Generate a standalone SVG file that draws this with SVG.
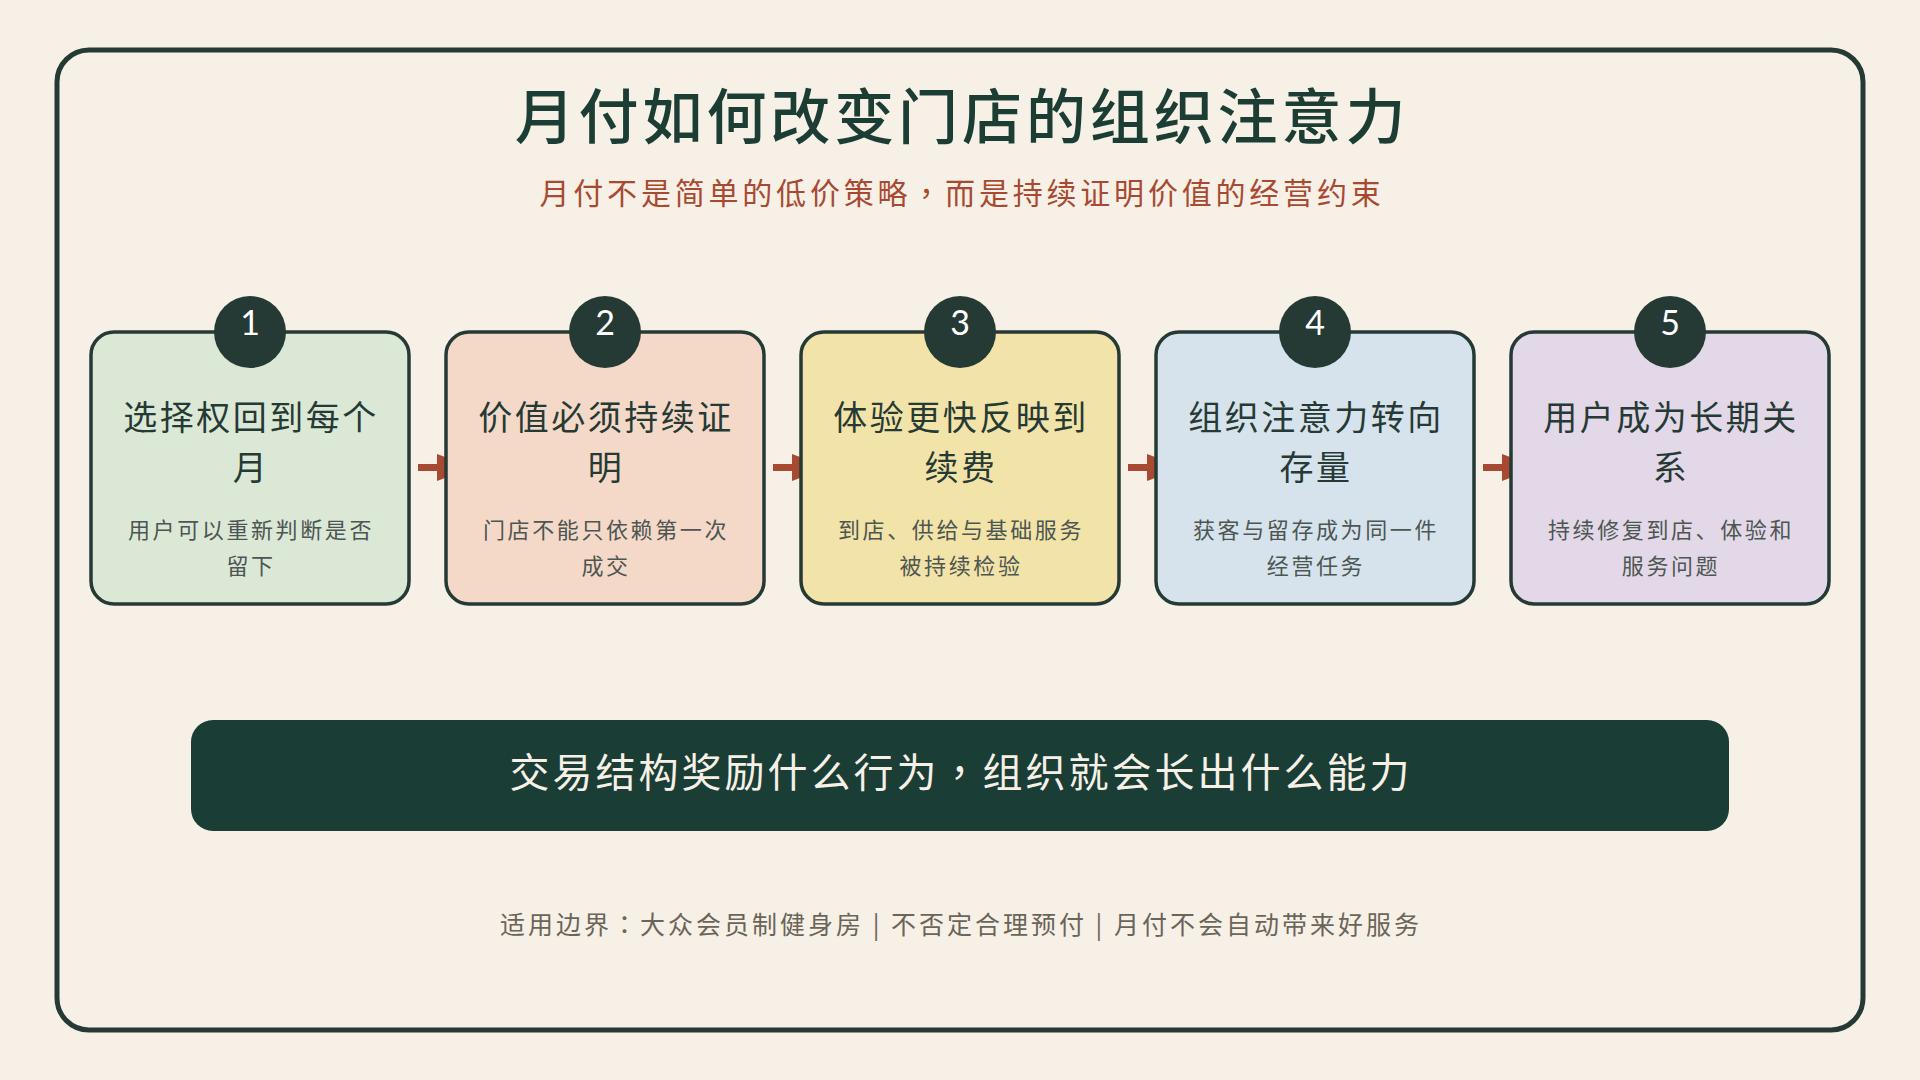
<svg xmlns="http://www.w3.org/2000/svg" width="1920" height="1080" viewBox="0 0 1920 1080">
<defs>
<style>
.cjk{font-family:"Noto Sans CJK SC","Noto Sans",sans-serif;}
.tc{font-family:"Noto Sans CJK TC","Noto Sans CJK SC",sans-serif;}
.title{font-size:60px;fill:#1b3d33;font-weight:500;letter-spacing:3.9px;}
.sub{font-size:30px;fill:#a84a32;letter-spacing:3.8px;}
.card{stroke:#263a35;stroke-width:3.5;}
.badge{fill:#263a35;}
.num{font-family:"Lato","Noto Sans",sans-serif;font-size:34px;fill:#ffffff;}
.ct{font-size:34px;fill:#263a35;letter-spacing:2.5px;}
.cd{font-size:22px;fill:#4d5652;letter-spacing:2.6px;}
.conn{stroke:#a84a32;stroke-width:7;}
.banner{fill:#1a3d36;}
.bt{font-size:40px;fill:#f6f0e6;letter-spacing:3px;}
.foot{font-size:25px;fill:#6b6458;letter-spacing:3px;}
</style>
<marker id="ah" markerUnits="userSpaceOnUse" viewBox="0 -14 40 28" markerWidth="40" markerHeight="28" refX="0" refY="0" orient="auto">
<path d="M0,-13.5 L36,0 L0,13.5 Z" fill="#a84a32"/>
</marker>
</defs>
<rect width="1920" height="1080" fill="#f6f0e6"/>
<rect x="57" y="50" width="1806" height="980" rx="32" fill="none" stroke="#263a35" stroke-width="5"/>
<g id="title">
<text class="cjk title" x="962" y="139" text-anchor="middle">月付如何改变门店的组织注意力</text>
<text class="cjk sub" x="962" y="204" text-anchor="middle">月付不是简单的低价策略<tspan class="tc">，</tspan>而是持续证明价值的经营约束</text>
</g>
<g id="connectors">
<line class="conn" x1="418" y1="467.5" x2="437" y2="467.5" marker-end="url(#ah)"/>
<line class="conn" x1="773" y1="467.5" x2="792" y2="467.5" marker-end="url(#ah)"/>
<line class="conn" x1="1128" y1="467.5" x2="1147" y2="467.5" marker-end="url(#ah)"/>
<line class="conn" x1="1483" y1="467.5" x2="1502" y2="467.5" marker-end="url(#ah)"/>
</g>
<g id="node1">
<rect class="card" x="91" y="332" width="318" height="272" rx="23" fill="#dce8d6"/>
<circle class="badge" cx="250" cy="332" r="36"/>
<text class="num" x="250" y="335" text-anchor="middle">1</text>
<text class="cjk ct" x="251" y="430" text-anchor="middle">选择权回到每个</text>
<text class="cjk ct" x="251" y="480" text-anchor="middle">月</text>
<text class="cjk cd" x="251" y="538" text-anchor="middle">用户可以重新判断是否</text>
<text class="cjk cd" x="251" y="574" text-anchor="middle">留下</text>
</g>
<g id="node2">
<rect class="card" x="446" y="332" width="318" height="272" rx="23" fill="#f4d9c8"/>
<circle class="badge" cx="605" cy="332" r="36"/>
<text class="num" x="605" y="335" text-anchor="middle">2</text>
<text class="cjk ct" x="606" y="430" text-anchor="middle">价值必须持续证</text>
<text class="cjk ct" x="606" y="480" text-anchor="middle">明</text>
<text class="cjk cd" x="606" y="538" text-anchor="middle">门店不能只依赖第一次</text>
<text class="cjk cd" x="606" y="574" text-anchor="middle">成交</text>
</g>
<g id="node3">
<rect class="card" x="801" y="332" width="318" height="272" rx="23" fill="#f2e3a8"/>
<circle class="badge" cx="960" cy="332" r="36"/>
<text class="num" x="960" y="335" text-anchor="middle">3</text>
<text class="cjk ct" x="961" y="430" text-anchor="middle">体验更快反映到</text>
<text class="cjk ct" x="961" y="480" text-anchor="middle">续费</text>
<text class="cjk cd" x="961" y="538" text-anchor="middle">到店、供给与基础服务</text>
<text class="cjk cd" x="961" y="574" text-anchor="middle">被持续检验</text>
</g>
<g id="node4">
<rect class="card" x="1156" y="332" width="318" height="272" rx="23" fill="#d6e3ec"/>
<circle class="badge" cx="1315" cy="332" r="36"/>
<text class="num" x="1315" y="335" text-anchor="middle">4</text>
<text class="cjk ct" x="1316" y="430" text-anchor="middle">组织注意力转向</text>
<text class="cjk ct" x="1316" y="480" text-anchor="middle">存量</text>
<text class="cjk cd" x="1316" y="538" text-anchor="middle">获客与留存成为同一件</text>
<text class="cjk cd" x="1316" y="574" text-anchor="middle">经营任务</text>
</g>
<g id="node5">
<rect class="card" x="1511" y="332" width="318" height="272" rx="23" fill="#e3d8e8"/>
<circle class="badge" cx="1670" cy="332" r="36"/>
<text class="num" x="1670" y="335" text-anchor="middle">5</text>
<text class="cjk ct" x="1671" y="430" text-anchor="middle">用户成为长期关</text>
<text class="cjk ct" x="1671" y="480" text-anchor="middle">系</text>
<text class="cjk cd" x="1671" y="538" text-anchor="middle">持续修复到店、体验和</text>
<text class="cjk cd" x="1671" y="574" text-anchor="middle">服务问题</text>
</g>
<g id="banner">
<rect class="banner" x="191" y="720" width="1538" height="111" rx="22"/>
<text class="cjk bt" x="961" y="787" text-anchor="middle">交易结构奖励什么行为<tspan class="tc">，</tspan>组织就会长出什么能力</text>
</g>
<g id="footer">
<text class="cjk foot" x="961" y="934" text-anchor="middle">适用边界<tspan class="tc">：</tspan>大众会员制健身房 | 不否定合理预付 | 月付不会自动带来好服务</text>
</g>
</svg>
